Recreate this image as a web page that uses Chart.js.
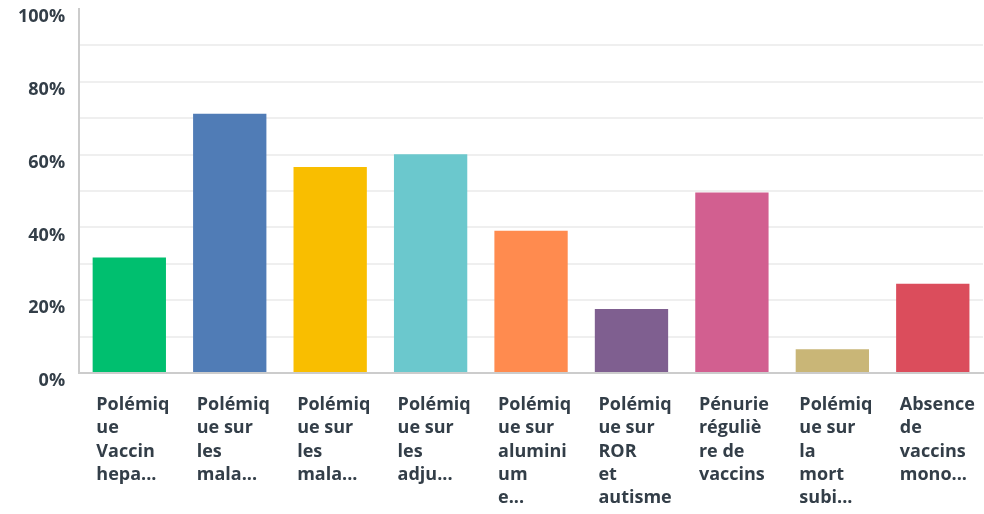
<!DOCTYPE html>
<html>
<head>
<meta charset="utf-8">
<script src="https://cdn.jsdelivr.net/npm/chart.js@4/dist/chart.umd.min.js"></script>
<style>
  body { margin: 0; background: #fff; }
  #wrap { width: 984px; height: 514px; }
</style>
</head>
<body>
<div id="wrap"><canvas id="barChart"></canvas></div>
<script>
// Libellés des catégories (coupés sur plusieurs lignes comme dans l'original)
const categories = [
    ['Polémiq', 'ue', 'Vaccin', 'hepa...'],
    ['Polémiq', 'ue sur', 'les', 'mala...'],
    ['Polémiq', 'ue sur', 'les', 'mala...'],
    ['Polémiq', 'ue sur', 'les', 'adju...'],
    ['Polémiq', 'ue sur', 'alumini', 'um', 'e...'],
    ['Polémiq', 'ue sur', 'ROR', 'et', 'autisme'],
    ['Pénurie', 'réguliè', 're de', 'vaccins'],
    ['Polémiq', 'ue sur', 'la', 'mort', 'subi...'],
    ['Absence', 'de', 'vaccins', 'mono...']
];

// Pourcentages
const percentages = [31.7, 71.2, 56.6, 60.1, 39.1, 17.6, 49.6, 6.5, 24.5];

const barColors = ['#00BF6F', '#507CB6', '#F9BE00', '#6BC8CD', '#FF8B4F', '#7F5F90', '#D25F90', '#C9B677', '#DB4D5C'];

// Graduations affichées
const yTickLabels = [0, 20, 40, 60, 80, 100];

const textColor = '#333e48';

const barData = {
    labels: categories,
    datasets: [{
        data: percentages,
        backgroundColor: barColors,
        barPercentage: 0.73,
        categoryPercentage: 1
    }]
};

const barOptions = {
    responsive: true,
    maintainAspectRatio: false,
    animation: false,
    layout: { padding: { top: 9, right: 1, left: 4, bottom: 0 } },
    plugins: {
        legend: { display: false },
        tooltip: { enabled: false }
    },
    scales: {
        x: {
            grid: { display: false, drawTicks: false },
            border: { color: '#cccccc', width: 2 },
            ticks: {
                color: textColor,
                font: { family: 'Open Sans', size: 18, weight: 'bold', lineHeight: 1.3 },
                align: 'start',
                labelOffset: -33,
                padding: 20,
                maxRotation: 0,
                autoSkip: false
            },
            // pas de marge ajoutée à droite pour le dernier libellé, axe un peu plus bas
            afterFit: scale => {
                scale.paddingRight = 0;
                scale.paddingLeft = 0;
                scale.height -= 16;
            }
        },
        y: {
            min: 0,
            max: 100,
            grid: {
                drawTicks: false,
                lineWidth: 2,
                color: ctx => (ctx.tick && ctx.tick.value === 100) ? 'rgba(0,0,0,0)' : '#efefef'
            },
            border: { color: '#cccccc', width: 2 },
            ticks: {
                stepSize: 10,
                color: textColor,
                font: { family: 'Open Sans', size: 18, weight: 'bold' },
                padding: 14,
                labelOffset: 8,
                callback: v => yTickLabels.includes(v) ? v + '%' : ''
            },
            afterFit: scale => { scale.paddingTop = 0; scale.paddingBottom = 0; }
        }
    }
};

let barCanvas = document.getElementById('barChart');
let barCtx = barCanvas.getContext('2d');

const myBarChart = new Chart(barCtx, {
    type: 'bar',
    data: barData,
    options: barOptions
});
</script>
</body>
</html>
